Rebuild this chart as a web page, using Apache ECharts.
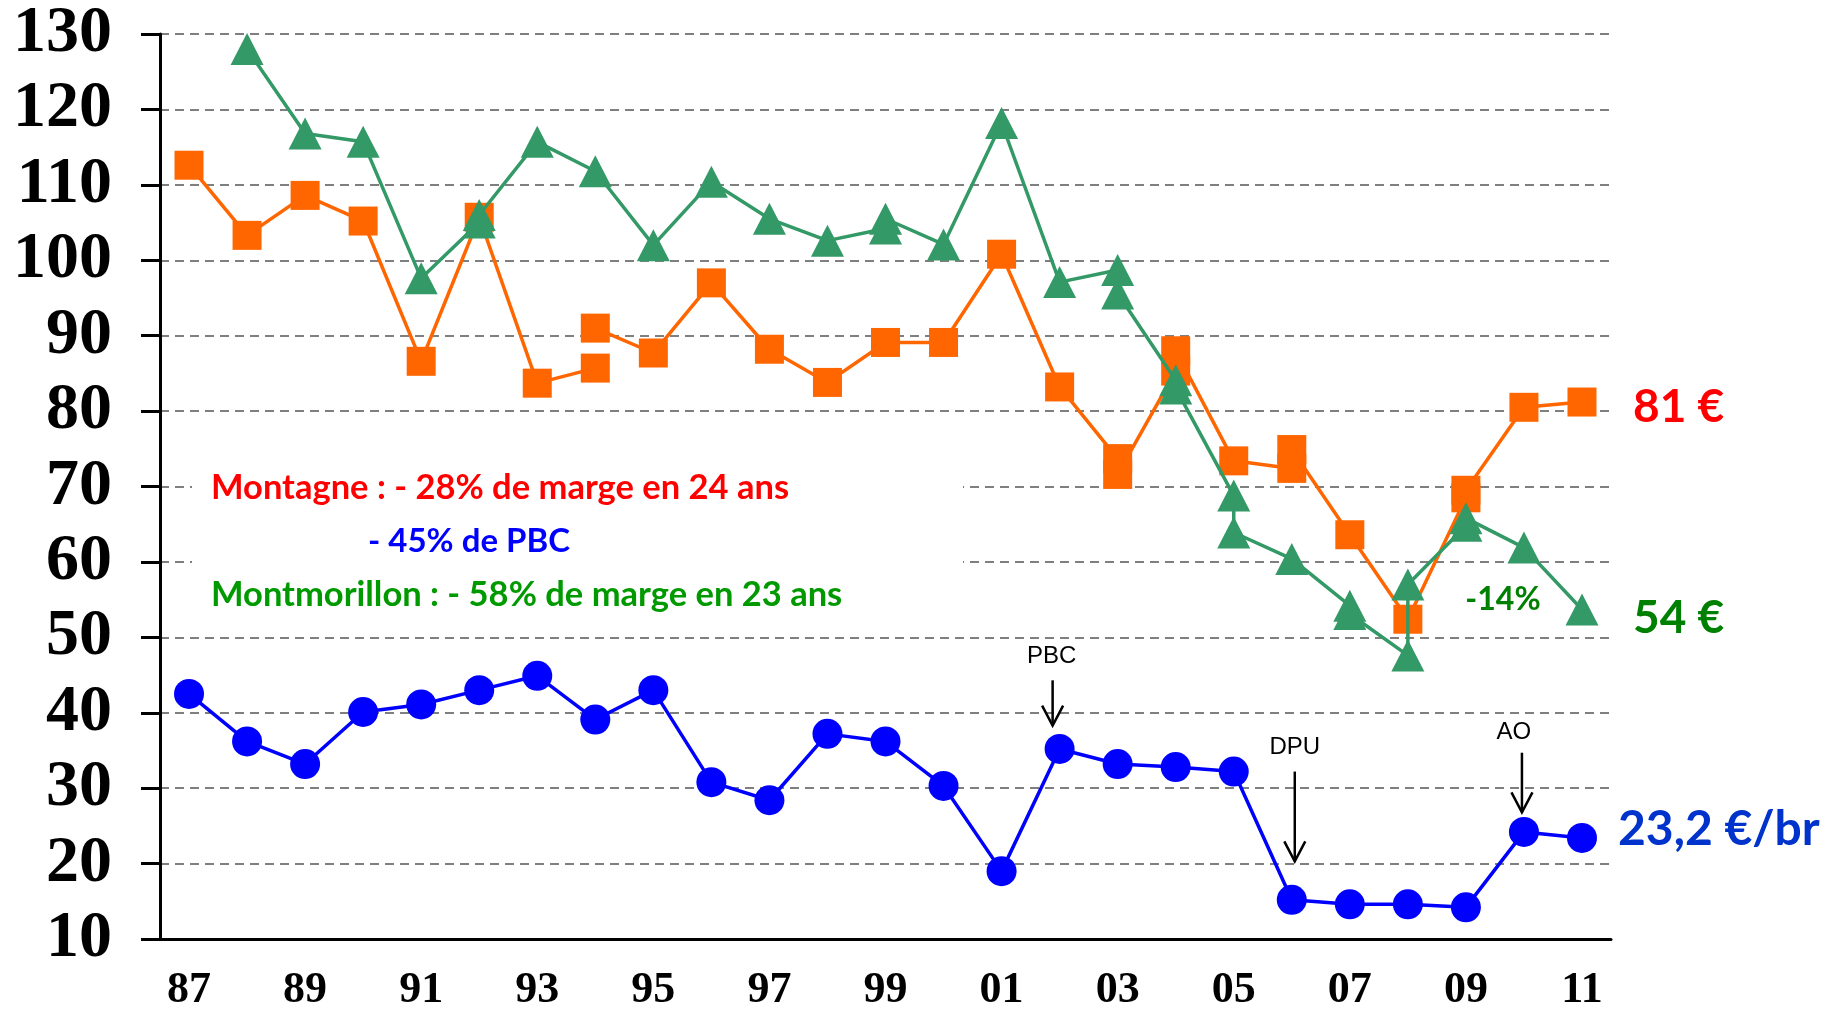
<!DOCTYPE html>
<html>
<head>
<meta charset="utf-8">
<title>Marges Montagne / Montmorillon</title>
<script src="https://cdn.jsdelivr.net/npm/echarts@6/dist/echarts.min.js"></script>
<style>
    html, body { margin: 0; padding: 0; background: #ffffff; }
    #chart-line { width: 1825px; height: 1013px; }
</style>
</head>
<body>
<div id="chart-line"></div>
<script>
// years on the x axis (87 -> 11)
var annees = ['87', '88', '89', '90', '91', '92', '93', '94', '95', '96', '97', '98', '99',
    '00', '01', '02', '03', '04', '05', '06', '07', '08', '09', '10', '11'];

// y axis range
var yMin = 10;
var yMax = 130;
var yPas = 10;

// Montagne margin, first stretch (87 -> 94)
var montagneDebut = [['87', 112.6], ['88', 103.3], ['89', 108.6], ['90', 105.2], ['91', 86.6],
    ['92', 105.7], ['93', 83.7], ['94', 85.7]];

// Montagne margin, second stretch (94 -> 11), some years have two points
var montagneSuite = [['94', 91.0], ['95', 87.7], ['96', 97.0], ['97', 88.2], ['98', 83.8],
    ['99', 89.1], ['00', 89.1], ['01', 100.8], ['02', 83.2], ['03', 73.7], ['03', 71.6],
    ['04', 85.3], ['04', 88.0], ['05', 73.4], ['06', 72.4], ['06', 74.9], ['07', 63.6],
    ['08', 52.4], ['09', 68.5], ['09', 69.5], ['10', 80.5], ['11', 81.2]];

// Montmorillon margin (88 -> 11)
var montmorillon = [['88', 128.0], ['89', 116.8], ['90', 115.7], ['91', 97.6], ['92', 105.0],
    ['92', 106.0], ['93', 115.7], ['94', 111.8], ['95', 102.0], ['96', 110.4], ['97', 105.5],
    ['98', 102.6], ['99', 104.2], ['99', 105.5], ['00', 102.1], ['01', 118.2], ['02', 97.1],
    ['03', 98.7], ['03', 95.6], ['04', 84.1], ['04', 83.0], ['05', 68.8], ['05', 63.9],
    ['06', 60.4], ['07', 54.2], ['07', 53.1], ['08', 47.6], ['08', 57.0], ['09', 64.8],
    ['09', 65.8], ['10', 61.9], ['11', 53.7]];

// PBC (euros par brebis)
var pbc = [42.5, 36.2, 33.2, 40.1, 41.1, 43.0, 44.9, 39.1, 43.0, 30.8, 28.4, 37.2, 36.2,
    30.3, 19.0, 35.2, 33.2, 32.8, 32.2, 15.2, 14.6, 14.6, 14.2, 24.2, 23.4];

// arrows: year, top / tip value, label value
var fleches = [
    {texte: 'PBC', annee: '02', dx: -7, haut: 44.3, bas: 38.3, texteY: 47.5, texteDx: -8},
    {texte: 'DPU', annee: '06', dx: 3, haut: 32.2, bas: 20.3, texteY: 35.4, texteDx: 3},
    {texte: 'AO', annee: '10', dx: -2, haut: 34.7, bas: 26.8, texteY: 37.4, texteDx: -10}
];

var couleurOrange = '#FF6600';
var couleurVert = '#339966';
var couleurBleu = '#0000FF';

var chartMain = document.getElementById('chart-line');
var mychart = echarts.init(chartMain);

var option_line = {
    animation: false,
    backgroundColor: '#ffffff',
    grid: {
        left: 160,
        right: 214,
        top: 34,
        bottom: 72
    },
    xAxis: {
        type: 'category',
        data: annees,
        boundaryGap: true,
        axisLine: {
            lineStyle: {color: '#000000', width: 3}
        },
        axisTick: {
            interval: 0,
            length: 13,
            lineStyle: {color: '#000000', width: 3}
        },
        axisLabel: {
            interval: 1,
            margin: 30,
            color: '#000000',
            fontFamily: 'Liberation Serif',
            fontWeight: 'bold',
            fontSize: 44
        },
        splitLine: {show: false}
    },
    yAxis: {
        type: 'value',
        min: yMin,
        max: yMax,
        interval: yPas,
        axisLine: {
            show: true,
            lineStyle: {color: '#000000', width: 3}
        },
        axisTick: {
            show: true,
            length: 19,
            lineStyle: {color: '#000000', width: 3}
        },
        axisLabel: {
            margin: 48,
            color: '#000000',
            fontFamily: 'Liberation Serif',
            fontWeight: 'bold',
            fontSize: 66
        },
        splitLine: {
            show: true,
            lineStyle: {color: '#555555', width: 1.5, type: [9, 6]}
        }
    },
    series: [
        {
            name: 'Montagne',
            type: 'line',
            data: montagneDebut,
            symbol: 'rect',
            symbolSize: 29,
            itemStyle: {color: couleurOrange},
            lineStyle: {color: couleurOrange, width: 3.5},
            z: 2
        },
        {
            name: 'Montagne (suite)',
            type: 'line',
            data: montagneSuite,
            symbol: 'rect',
            symbolSize: 29,
            itemStyle: {color: couleurOrange},
            lineStyle: {color: couleurOrange, width: 3.5},
            z: 2
        },
        {
            name: 'PBC',
            type: 'line',
            data: pbc,
            symbol: 'circle',
            symbolSize: 30,
            itemStyle: {color: couleurBleu},
            lineStyle: {color: couleurBleu, width: 3.5},
            z: 3
        },
        {
            name: 'Montmorillon',
            type: 'line',
            data: montmorillon,
            symbol: 'triangle',
            symbolSize: [33, 32],
            itemStyle: {color: couleurVert},
            lineStyle: {color: couleurVert, width: 3.5},
            z: 4
        }
    ]
};

mychart.setOption(option_line);

// text annotations (white box hides the grid lines behind the comments)
var graphics = [
    {type: 'rect', z: 50, shape: {x: 192, y: 455, width: 771, height: 160}, style: {fill: '#ffffff'}},
    {type: 'text', z: 60, style: {text: 'Montagne : - 28% de marge en 24 ans', x: 211, y: 488,
        textVerticalAlign: 'middle', fill: '#FF0000', font: 'bold 34.5px Lato'}},
    {type: 'text', z: 60, style: {text: '- 45% de PBC', x: 368, y: 541,
        textVerticalAlign: 'middle', fill: '#0000FF', font: 'bold 33px Lato'}},
    {type: 'text', z: 60, style: {text: 'Montmorillon : - 58% de marge en 23 ans', x: 211, y: 595,
        textVerticalAlign: 'middle', fill: '#009900', font: 'bold 34.5px Lato'}},
    {type: 'text', z: 60, style: {text: '81 €', x: 1633, y: 407,
        textVerticalAlign: 'middle', fill: '#FF0000', font: 'bold 46px Lato'}},
    {type: 'text', z: 60, style: {text: '54 €', x: 1633, y: 618,
        textVerticalAlign: 'middle', fill: '#008000', font: 'bold 46px Lato'}},
    {type: 'text', z: 60, style: {text: '23,2 €/br', x: 1618, y: 830,
        textVerticalAlign: 'middle', fill: '#0033CC', font: 'bold 48px Lato'}},
    {type: 'text', z: 60, style: {text: '-14%', x: 1503, y: 600, textAlign: 'center',
        textVerticalAlign: 'middle', fill: '#008000', font: 'bold 32px Lato'}}
];

// arrows pointing at the policy changes, placed from the axes
for (var i = 0; i < fleches.length; i++) {
    var f = fleches[i];
    var pHaut = mychart.convertToPixel({gridIndex: 0}, [f.annee, f.haut]);
    var pBas = mychart.convertToPixel({gridIndex: 0}, [f.annee, f.bas]);
    var pTexte = mychart.convertToPixel({gridIndex: 0}, [f.annee, f.texteY]);
    var x = pHaut[0] + f.dx;
    graphics.push({
        type: 'line', z: 60,
        shape: {x1: x, y1: pHaut[1], x2: x, y2: pBas[1]},
        style: {stroke: '#000000', lineWidth: 2.5}
    });
    graphics.push({
        type: 'polyline', z: 60,
        shape: {points: [[x - 10.5, pBas[1] - 20], [x, pBas[1]], [x + 10.5, pBas[1] - 20]]},
        style: {stroke: '#000000', lineWidth: 2.5, fill: null}
    });
    graphics.push({
        type: 'text', z: 60,
        style: {text: f.texte, x: pTexte[0] + f.texteDx, y: pTexte[1], textAlign: 'center',
            textVerticalAlign: 'middle', fill: '#000000', font: '24px "Liberation Sans"'}
    });
}

mychart.setOption({graphic: graphics});
</script>
</body>
</html>
